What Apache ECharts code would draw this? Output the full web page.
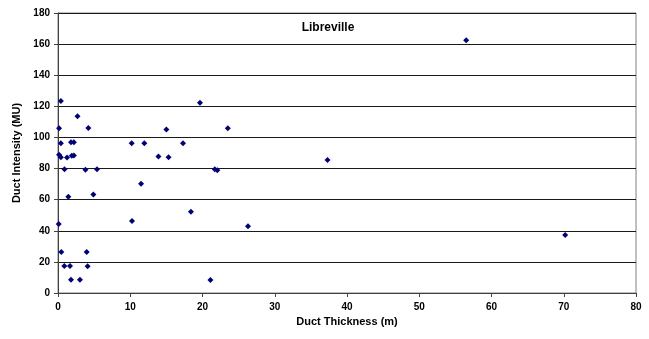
<!DOCTYPE html>
<html>
<head>
<meta charset="utf-8">
<script src="https://cdn.jsdelivr.net/npm/echarts@6/dist/echarts.min.js"></script>
<style>
html,body{margin:0;padding:0;background:#fff;}
#chart{width:649px;height:339px;}
</style>
</head>
<body>
<div id="chart"></div>
<script>
var title = "Libreville";
var xAxisName = "Duct Thickness (m)";
var yAxisName = "Duct Intensity (MU)";
var thickness = [0.4, 2.7, 0.15, 4.2, 15.0, 23.5, 19.65, 0.4, 1.8, 2.2, 10.2, 11.95, 17.3,
  0.15, 0.4, 1.25, 1.9, 2.2, 13.9, 15.3, 0.9, 3.8, 5.4, 21.7, 22.05, 37.3, 11.5,
  1.43, 4.9, 18.4, 0.1, 10.24, 26.3, 0.46, 3.97, 0.87, 1.66, 4.1, 1.8, 3.04, 21.1,
  56.5, 70.2];
var intensity = [123.5, 113.7, 105.9, 106, 105.1, 105.9, 122.3, 96.3, 96.9, 96.9, 96.3, 96.3, 96.2,
  88.8, 87.2, 87.1, 88.2, 88.4, 87.7, 87.2, 79.6, 79.3, 79.5, 79.5, 78.9, 85.5, 70.3,
  61.8, 63.4, 52.3, 44.3, 46.3, 42.9, 26.3, 26.3, 17.4, 17.4, 17.2, 8.5, 8.5, 8.4,
  162.5, 37.3];

var points = thickness.map(function (x, i) { return [x, intensity[i]]; });

var chart = echarts.init(document.getElementById('chart'), null, {renderer: 'canvas'});
var font = 'Arial, "Liberation Sans", sans-serif';
chart.setOption({
  animation: false,
  backgroundColor: '#ffffff',
  title: {
    text: title,
    left: 323, top: 17, textAlign: 'center',
    textStyle: {fontFamily: font, fontSize: 12, fontWeight: 'bold', color: '#000'}
  },
  grid: {left: 58, right: 13, top: 13, bottom: 46, show: true, borderColor: '#808080', borderWidth: 1},
  xAxis: {
    type: 'value', min: 0, max: 80, interval: 10,
    name: xAxisName, nameLocation: 'middle', nameGap: 22,
    nameTextStyle: {fontFamily: font, fontSize: 11, fontWeight: 'bold', color: '#000'},
    axisLine: {show: true, onZero: false, lineStyle: {color: '#404040', width: 1}},
    axisTick: {show: true, length: 4, lineStyle: {color: '#404040'}},
    axisLabel: {fontFamily: font, fontSize: 10, fontWeight: 'bold', color: '#000', margin: 9},
    splitLine: {show: false}
  },
  yAxis: {
    type: 'value', min: 0, max: 180, interval: 20,
    name: yAxisName, nameLocation: 'middle', nameGap: 33, nameRotate: 90,
    nameTextStyle: {fontFamily: font, fontSize: 11, fontWeight: 'bold', color: '#000'},
    axisLine: {show: true, onZero: false, lineStyle: {color: '#404040', width: 1}},
    axisTick: {show: true, length: 4, lineStyle: {color: '#404040'}},
    axisLabel: {fontFamily: font, fontSize: 10, fontWeight: 'bold', color: '#000', margin: 8},
    splitLine: {show: true, lineStyle: {color: '#1a1a1a', width: 1}}
  },
  series: [{
    type: 'scatter',
    data: points,
    symbol: 'diamond',
    symbolSize: 6,
    itemStyle: {color: '#000080', opacity: 1}
  }]
});
</script>
</body>
</html>
